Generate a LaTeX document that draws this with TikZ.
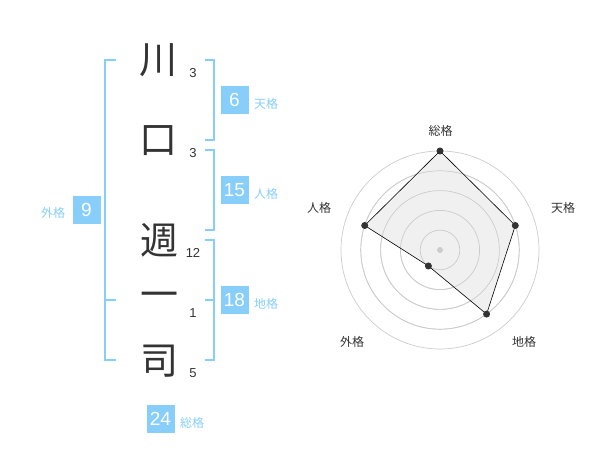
\documentclass[tikz,border=0pt]{standalone}
\usepackage{fontspec}
\setmainfont{Liberation Sans}
\newfontfamily\jp{Noto Sans CJK JP}
\definecolor{sky}{HTML}{87CEFA}
\definecolor{ink}{HTML}{333333}
\definecolor{ring}{HTML}{CCCCCC}
\definecolor{area}{HTML}{F0F0F0}
\begin{document}
\begin{tikzpicture}[x=1pt,y=-1pt,
  kanji/.style={inner sep=0pt,text=ink,font=\jp\fontsize{38}{38}\selectfont},
  strokes/.style={inner sep=0pt,text=ink,font=\fontsize{13}{13}\selectfont},
  valbox/.style={fill=sky,text=white,minimum width=28pt,minimum height=28pt,inner sep=0pt,font=\fontsize{19}{19}\selectfont},
  vallabel/.style={anchor=west,inner sep=0pt,text=sky,font=\jp\fontsize{12}{12}\selectfont},
  bracket/.style={draw=sky,line width=2pt},
  ringline/.style={draw=ring,line width=0.7pt},
  axlabel/.style={inner sep=0pt,text=ink,font=\jp\fontsize{12}{12}\selectfont},
  dot/.style={circle,fill=ink,inner sep=0pt,minimum size=7pt}]
\useasboundingbox (0,0) rectangle (600,470);
% characters
\node[kanji] (k1) at (158,60) {川};
\node[kanji] (k2) at (158,141) {口};
\node[kanji] (k3) at (159,240) {週};
\node[kanji] (k4) at (159,300) {一};
\node[kanji] (k5) at (159,361) {司};
\node[strokes] (s1) at (193,73) {3};
\node[strokes] (s2) at (193,153) {3};
\node[strokes] (s3) at (193,253) {12};
\node[strokes] (s4) at (193,313) {1};
\node[strokes] (s5) at (193,373) {5};
% brackets
\draw[bracket] (116,60) -- (105,60) -- (105,360) -- (116,360);
\draw[bracket] (105,300) -- (116,300);
\draw[bracket] (205,60) -- (214,60) -- (214,140) -- (205,140);
\draw[bracket] (205,150) -- (214,150) -- (214,230) -- (205,230);
\draw[bracket] (205,240) -- (214,240) -- (214,360) -- (205,360);
\draw[bracket] (205,300) -- (214,300);
% value boxes
\node[valbox] (b6) at (234.5,100) {6};
\node[vallabel] (l6) at (254,104) {天格};
\node[valbox] (b15) at (234.5,190) {15};
\node[vallabel] (l15) at (254,194) {人格};
\node[valbox] (b18) at (234.5,300) {18};
\node[vallabel] (l18) at (254,304) {地格};
\node[valbox] (b9) at (86.5,210) {9};
\node[vallabel] (l9) at (41,213) {外格};
\node[valbox] (b24) at (160.5,419) {24};
\node[vallabel] (l24) at (180,423) {総格};
% radar
\coordinate (c) at (440,250);
\foreach \r in {19.8,39.6,59.4,79.2,99} \draw[ringline] (c) circle[radius=\r];
\coordinate (p1) at (440,151);
\coordinate (p2) at (515.3,225.5);
\coordinate (p3) at (486.6,314.1);
\coordinate (p4) at (428.4,266.0);
\coordinate (p5) at (364.7,225.5);
\fill[area] (p1) -- (p2) -- (p3) -- (p4) -- (p5) -- cycle;
\foreach \r in {19.8,39.6,59.4,79.2} \draw[ringline] (c) circle[radius=\r];
\draw[black,line width=0.6pt] (p1) -- (p2) -- (p3) -- (p4) -- (p5) -- cycle;
\node[circle,fill=ring,inner sep=0pt,minimum size=6pt] (cd) at (c) {};
\foreach \p in {p1,p2,p3,p4,p5} \node[dot] (d\p) at (\p) {};
\node[axlabel] (a1) at (440.5,130.5) {総格};
\node[axlabel] (a2) at (563,208) {天格};
\node[axlabel] (a3) at (524,342) {地格};
\node[axlabel] (a4) at (352,342) {外格};
\node[axlabel] (a5) at (319,208) {人格};
\end{tikzpicture}
\end{document}
